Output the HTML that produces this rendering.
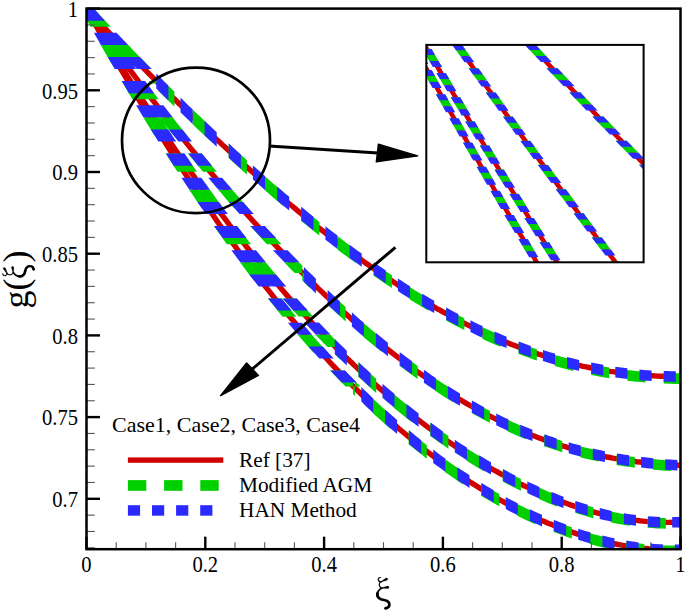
<!DOCTYPE html>
<html><head><meta charset="utf-8"><style>html,body{margin:0;padding:0;background:#fff;}svg{display:block;}</style></head>
<body><svg width="685" height="612" viewBox="0 0 685 612">
<defs><clipPath id="pc"><rect x="86.50" y="8.60" width="594.00" height="540.60"/></clipPath>
<clipPath id="ic"><rect x="426.30" y="44.90" width="217.30" height="217.40"/></clipPath></defs>
<rect width="685" height="612" fill="#fff"/>
<g clip-path="url(#pc)"><path d="M86.5,8.6 L89.5,11.8 L92.4,15.0 L95.4,18.2 L98.4,21.3 L101.4,24.5 L104.3,27.6 L107.3,30.8 L110.3,33.9 L113.3,37.0 L116.2,40.1 L119.2,43.2 L122.2,46.3 L125.2,49.4 L128.1,52.5 L131.1,55.5 L134.1,58.6 L137.1,61.6 L140.0,64.7 L143.0,67.7 L146.0,70.7 L148.9,73.7 L151.9,76.7 L154.9,79.7 L157.9,82.6 L160.8,85.6 L163.8,88.6 L166.8,91.5 L169.8,94.5 L172.7,97.4 L175.7,100.3 L178.7,103.2 L181.7,106.1 L184.6,109.0 L187.6,111.9 L190.6,114.7 L193.6,117.6 L196.5,120.4 L199.5,123.3 L202.5,126.1 L205.4,128.9 L208.4,131.7 L211.4,134.5 L214.4,137.3 L217.3,140.1 L220.3,142.8 L223.3,145.6 L226.3,148.3 L229.2,151.1 L232.2,153.8 L235.2,156.5 L238.2,159.2 L241.1,161.9 L244.1,164.6 L247.1,167.2 L250.1,169.9 L253.0,172.5 L256.0,175.2 L259.0,177.8 L261.9,180.4 L264.9,183.0 L267.9,185.6 L270.9,188.1 L273.8,190.7 L276.8,193.2 L279.8,195.8 L282.8,198.3 L285.7,200.8 L288.7,203.3 L291.7,205.8 L294.7,208.2 L297.6,210.7 L300.6,213.1 L303.6,215.6 L306.6,218.0 L309.5,220.4 L312.5,222.8 L315.5,225.1 L318.4,227.5 L321.4,229.9 L324.4,232.2 L327.4,234.5 L330.3,236.8 L333.3,239.1 L336.3,241.4 L339.3,243.6 L342.2,245.9 L345.2,248.1 L348.2,250.3 L351.2,252.5 L354.1,254.7 L357.1,256.8 L360.1,259.0 L363.1,261.1 L366.0,263.2 L369.0,265.3 L372.0,267.4 L375.0,269.5 L377.9,271.5 L380.9,273.5 L383.9,275.6 L386.8,277.6 L389.8,279.5 L392.8,281.5 L395.8,283.4 L398.7,285.4 L401.7,287.3 L404.7,289.2 L407.7,291.1 L410.6,292.9 L413.6,294.7 L416.6,296.6 L419.6,298.4 L422.5,300.1 L425.5,301.9 L428.5,303.7 L431.5,305.4 L434.4,307.1 L437.4,308.8 L440.4,310.4 L443.3,312.1 L446.3,313.7 L449.3,315.3 L452.3,316.9 L455.2,318.5 L458.2,320.0 L461.2,321.6 L464.2,323.1 L467.1,324.6 L470.1,326.0 L473.1,327.5 L476.1,328.9 L479.0,330.3 L482.0,331.7 L485.0,333.1 L488.0,334.4 L490.9,335.7 L493.9,337.1 L496.9,338.3 L499.8,339.6 L502.8,340.8 L505.8,342.1 L508.8,343.3 L511.7,344.4 L514.7,345.6 L517.7,346.7 L520.7,347.8 L523.6,348.9 L526.6,350.0 L529.6,351.1 L532.6,352.1 L535.5,353.1 L538.5,354.1 L541.5,355.0 L544.5,356.0 L547.4,356.9 L550.4,357.8 L553.4,358.7 L556.3,359.5 L559.3,360.4 L562.3,361.2 L565.3,362.0 L568.2,362.7 L571.2,363.5 L574.2,364.2 L577.2,364.9 L580.1,365.6 L583.1,366.3 L586.1,366.9 L589.1,367.5 L592.0,368.1 L595.0,368.7 L598.0,369.3 L601.0,369.8 L603.9,370.3 L606.9,370.8 L609.9,371.3 L612.8,371.7 L615.8,372.1 L618.8,372.6 L621.8,372.9 L624.7,373.3 L627.7,373.7 L630.7,374.0 L633.7,374.3 L636.6,374.6 L639.6,374.9 L642.6,375.1 L645.6,375.3 L648.5,375.5 L651.5,375.7 L654.5,375.9 L657.5,376.1 L660.4,376.2 L663.4,376.3 L666.4,376.4 L669.3,376.5 L672.3,376.5 L675.3,376.6 L678.3,376.6 L680.5,376.6" fill="none" stroke="#d00000" stroke-width="5.4"/><path d="M86.5,8.6 L89.5,12.9 L92.4,17.2 L95.4,21.5 L98.4,25.8 L101.4,30.0 L104.3,34.2 L107.3,38.4 L110.3,42.6 L113.3,46.8 L116.2,50.9 L119.2,55.0 L122.2,59.1 L125.2,63.2 L128.1,67.3 L131.1,71.3 L134.1,75.3 L137.1,79.3 L140.0,83.3 L143.0,87.2 L146.0,91.2 L148.9,95.1 L151.9,99.0 L154.9,102.9 L157.9,106.8 L160.8,110.6 L163.8,114.4 L166.8,118.3 L169.8,122.1 L172.7,125.8 L175.7,129.6 L178.7,133.3 L181.7,137.0 L184.6,140.7 L187.6,144.4 L190.6,148.1 L193.6,151.7 L196.5,155.4 L199.5,159.0 L202.5,162.6 L205.4,166.2 L208.4,169.7 L211.4,173.3 L214.4,176.8 L217.3,180.3 L220.3,183.8 L223.3,187.3 L226.3,190.7 L229.2,194.2 L232.2,197.6 L235.2,201.0 L238.2,204.3 L241.1,207.7 L244.1,211.1 L247.1,214.4 L250.1,217.7 L253.0,221.0 L256.0,224.3 L259.0,227.5 L261.9,230.7 L264.9,234.0 L267.9,237.2 L270.9,240.3 L273.8,243.5 L276.8,246.6 L279.8,249.8 L282.8,252.9 L285.7,255.9 L288.7,259.0 L291.7,262.1 L294.7,265.1 L297.6,268.1 L300.6,271.1 L303.6,274.0 L306.6,277.0 L309.5,279.9 L312.5,282.8 L315.5,285.7 L318.4,288.6 L321.4,291.4 L324.4,294.2 L327.4,297.1 L330.3,299.8 L333.3,302.6 L336.3,305.3 L339.3,308.1 L342.2,310.8 L345.2,313.4 L348.2,316.1 L351.2,318.7 L354.1,321.4 L357.1,324.0 L360.1,326.5 L363.1,329.1 L366.0,331.6 L369.0,334.1 L372.0,336.6 L375.0,339.1 L377.9,341.5 L380.9,343.9 L383.9,346.3 L386.8,348.7 L389.8,351.0 L392.8,353.4 L395.8,355.7 L398.7,357.9 L401.7,360.2 L404.7,362.4 L407.7,364.7 L410.6,366.8 L413.6,369.0 L416.6,371.1 L419.6,373.3 L422.5,375.3 L425.5,377.4 L428.5,379.5 L431.5,381.5 L434.4,383.5 L437.4,385.4 L440.4,387.4 L443.3,389.3 L446.3,391.2 L449.3,393.1 L452.3,394.9 L455.2,396.8 L458.2,398.6 L461.2,400.3 L464.2,402.1 L467.1,403.8 L470.1,405.5 L473.1,407.2 L476.1,408.8 L479.0,410.5 L482.0,412.1 L485.0,413.6 L488.0,415.2 L490.9,416.7 L493.9,418.2 L496.9,419.7 L499.8,421.1 L502.8,422.6 L505.8,424.0 L508.8,425.3 L511.7,426.7 L514.7,428.0 L517.7,429.3 L520.7,430.6 L523.6,431.8 L526.6,433.1 L529.6,434.3 L532.6,435.4 L535.5,436.6 L538.5,437.7 L541.5,438.8 L544.5,439.9 L547.4,440.9 L550.4,442.0 L553.4,443.0 L556.3,443.9 L559.3,444.9 L562.3,445.8 L565.3,446.7 L568.2,447.6 L571.2,448.5 L574.2,449.3 L577.2,450.1 L580.1,450.9 L583.1,451.7 L586.1,452.4 L589.1,453.1 L592.0,453.8 L595.0,454.5 L598.0,455.1 L601.0,455.8 L603.9,456.4 L606.9,457.0 L609.9,457.5 L612.8,458.1 L615.8,458.6 L618.8,459.1 L621.8,459.6 L624.7,460.0 L627.7,460.5 L630.7,460.9 L633.7,461.3 L636.6,461.7 L639.6,462.0 L642.6,462.4 L645.6,462.7 L648.5,463.0 L651.5,463.3 L654.5,463.6 L657.5,463.9 L660.4,464.1 L663.4,464.3 L666.4,464.5 L669.3,464.7 L672.3,464.9 L675.3,465.1 L678.3,465.2 L680.5,465.3" fill="none" stroke="#d00000" stroke-width="5.4"/><path d="M86.5,8.6 L89.5,13.6 L92.4,18.7 L95.4,23.6 L98.4,28.6 L101.4,33.6 L104.3,38.5 L107.3,43.4 L110.3,48.3 L113.3,53.2 L116.2,58.0 L119.2,62.9 L122.2,67.7 L125.2,72.5 L128.1,77.2 L131.1,82.0 L134.1,86.7 L137.1,91.4 L140.0,96.0 L143.0,100.7 L146.0,105.3 L148.9,109.9 L151.9,114.5 L154.9,119.0 L157.9,123.6 L160.8,128.1 L163.8,132.5 L166.8,137.0 L169.8,141.4 L172.7,145.8 L175.7,150.2 L178.7,154.5 L181.7,158.9 L184.6,163.2 L187.6,167.4 L190.6,171.7 L193.6,175.9 L196.5,180.1 L199.5,184.3 L202.5,188.4 L205.4,192.5 L208.4,196.6 L211.4,200.7 L214.4,204.7 L217.3,208.8 L220.3,212.8 L223.3,216.7 L226.3,220.7 L229.2,224.6 L232.2,228.4 L235.2,232.3 L238.2,236.1 L241.1,239.9 L244.1,243.7 L247.1,247.5 L250.1,251.2 L253.0,254.9 L256.0,258.6 L259.0,262.2 L261.9,265.8 L264.9,269.4 L267.9,273.0 L270.9,276.5 L273.8,280.1 L276.8,283.5 L279.8,287.0 L282.8,290.4 L285.7,293.9 L288.7,297.2 L291.7,300.6 L294.7,303.9 L297.6,307.2 L300.6,310.5 L303.6,313.8 L306.6,317.0 L309.5,320.2 L312.5,323.4 L315.5,326.5 L318.4,329.6 L321.4,332.7 L324.4,335.8 L327.4,338.9 L330.3,341.9 L333.3,344.9 L336.3,347.8 L339.3,350.8 L342.2,353.7 L345.2,356.6 L348.2,359.5 L351.2,362.3 L354.1,365.1 L357.1,367.9 L360.1,370.7 L363.1,373.4 L366.0,376.2 L369.0,378.8 L372.0,381.5 L375.0,384.2 L377.9,386.8 L380.9,389.4 L383.9,391.9 L386.8,394.5 L389.8,397.0 L392.8,399.5 L395.8,402.0 L398.7,404.4 L401.7,406.8 L404.7,409.2 L407.7,411.6 L410.6,414.0 L413.6,416.3 L416.6,418.6 L419.6,420.9 L422.5,423.1 L425.5,425.4 L428.5,427.6 L431.5,429.7 L434.4,431.9 L437.4,434.0 L440.4,436.1 L443.3,438.2 L446.3,440.3 L449.3,442.3 L452.3,444.3 L455.2,446.3 L458.2,448.3 L461.2,450.2 L464.2,452.2 L467.1,454.1 L470.1,455.9 L473.1,457.8 L476.1,459.6 L479.0,461.4 L482.0,463.2 L485.0,464.9 L488.0,466.7 L490.9,468.4 L493.9,470.0 L496.9,471.7 L499.8,473.3 L502.8,474.9 L505.8,476.5 L508.8,478.1 L511.7,479.6 L514.7,481.1 L517.7,482.6 L520.7,484.1 L523.6,485.5 L526.6,486.9 L529.6,488.3 L532.6,489.7 L535.5,491.0 L538.5,492.3 L541.5,493.6 L544.5,494.9 L547.4,496.1 L550.4,497.3 L553.4,498.5 L556.3,499.7 L559.3,500.8 L562.3,501.9 L565.3,503.0 L568.2,504.0 L571.2,505.1 L574.2,506.1 L577.2,507.0 L580.1,508.0 L583.1,508.9 L586.1,509.8 L589.1,510.6 L592.0,511.5 L595.0,512.3 L598.0,513.1 L601.0,513.8 L603.9,514.5 L606.9,515.2 L609.9,515.9 L612.8,516.5 L615.8,517.1 L618.8,517.7 L621.8,518.2 L624.7,518.7 L627.7,519.2 L630.7,519.6 L633.7,520.1 L636.6,520.4 L639.6,520.8 L642.6,521.1 L645.6,521.4 L648.5,521.6 L651.5,521.8 L654.5,522.0 L657.5,522.2 L660.4,522.3 L663.4,522.3 L666.4,522.4 L669.3,522.4 L672.3,522.3 L675.3,522.3 L678.3,522.2 L680.5,522.0" fill="none" stroke="#d00000" stroke-width="5.4"/><path d="M86.5,8.6 L89.5,14.0 L92.4,19.3 L95.4,24.6 L98.4,29.9 L101.4,35.2 L104.3,40.4 L107.3,45.6 L110.3,50.8 L113.3,56.0 L116.2,61.2 L119.2,66.3 L122.2,71.4 L125.2,76.5 L128.1,81.5 L131.1,86.6 L134.1,91.6 L137.1,96.6 L140.0,101.6 L143.0,106.5 L146.0,111.4 L148.9,116.3 L151.9,121.2 L154.9,126.0 L157.9,130.8 L160.8,135.6 L163.8,140.3 L166.8,145.1 L169.8,149.8 L172.7,154.5 L175.7,159.1 L178.7,163.7 L181.7,168.3 L184.6,172.9 L187.6,177.5 L190.6,182.0 L193.6,186.5 L196.5,190.9 L199.5,195.4 L202.5,199.8 L205.4,204.2 L208.4,208.5 L211.4,212.8 L214.4,217.1 L217.3,221.4 L220.3,225.7 L223.3,229.9 L226.3,234.1 L229.2,238.2 L232.2,242.3 L235.2,246.4 L238.2,250.5 L241.1,254.6 L244.1,258.6 L247.1,262.6 L250.1,266.5 L253.0,270.5 L256.0,274.4 L259.0,278.2 L261.9,282.1 L264.9,285.9 L267.9,289.7 L270.9,293.4 L273.8,297.2 L276.8,300.9 L279.8,304.6 L282.8,308.2 L285.7,311.8 L288.7,315.4 L291.7,319.0 L294.7,322.5 L297.6,326.0 L300.6,329.5 L303.6,332.9 L306.6,336.3 L309.5,339.7 L312.5,343.1 L315.5,346.4 L318.4,349.7 L321.4,353.0 L324.4,356.3 L327.4,359.5 L330.3,362.7 L333.3,365.9 L336.3,369.0 L339.3,372.1 L342.2,375.2 L345.2,378.2 L348.2,381.3 L351.2,384.3 L354.1,387.2 L357.1,390.2 L360.1,393.1 L363.1,396.0 L366.0,398.8 L369.0,401.7 L372.0,404.5 L375.0,407.3 L377.9,410.0 L380.9,412.7 L383.9,415.4 L386.8,418.1 L389.8,420.7 L392.8,423.4 L395.8,425.9 L398.7,428.5 L401.7,431.0 L404.7,433.5 L407.7,436.0 L410.6,438.5 L413.6,440.9 L416.6,443.3 L419.6,445.7 L422.5,448.0 L425.5,450.3 L428.5,452.6 L431.5,454.9 L434.4,457.1 L437.4,459.4 L440.4,461.5 L443.3,463.7 L446.3,465.8 L449.3,468.0 L452.3,470.0 L455.2,472.1 L458.2,474.1 L461.2,476.1 L464.2,478.1 L467.1,480.1 L470.1,482.0 L473.1,483.9 L476.1,485.8 L479.0,487.6 L482.0,489.4 L485.0,491.2 L488.0,493.0 L490.9,494.7 L493.9,496.4 L496.9,498.1 L499.8,499.8 L502.8,501.4 L505.8,503.1 L508.8,504.6 L511.7,506.2 L514.7,507.7 L517.7,509.2 L520.7,510.7 L523.6,512.2 L526.6,513.6 L529.6,515.0 L532.6,516.4 L535.5,517.8 L538.5,519.1 L541.5,520.4 L544.5,521.6 L547.4,522.9 L550.4,524.1 L553.4,525.3 L556.3,526.5 L559.3,527.6 L562.3,528.7 L565.3,529.8 L568.2,530.9 L571.2,531.9 L574.2,532.9 L577.2,533.9 L580.1,534.8 L583.1,535.7 L586.1,536.6 L589.1,537.5 L592.0,538.3 L595.0,539.2 L598.0,539.9 L601.0,540.7 L603.9,541.4 L606.9,542.1 L609.9,542.8 L612.8,543.4 L615.8,544.0 L618.8,544.6 L621.8,545.2 L624.7,545.7 L627.7,546.2 L630.7,546.6 L633.7,547.1 L636.6,547.5 L639.6,547.8 L642.6,548.2 L645.6,548.5 L648.5,548.8 L651.5,549.0 L654.5,549.2 L657.5,549.4 L660.4,549.6 L663.4,549.7 L666.4,549.8 L669.3,549.8 L672.3,549.8 L675.3,549.8 L678.3,549.8 L680.5,549.7" fill="none" stroke="#d00000" stroke-width="5.4"/><path d="M79.3,8.6 L83.5,13.1 L87.7,17.7 L92.0,22.2 L96.3,26.8 L110.8,26.8 L106.5,22.2 L102.2,17.7 L98.0,13.1 L93.7,8.6Z M113.4,44.8 L117.7,49.4 L122.1,53.9 L126.5,58.5 L131.0,63.0 L145.8,63.0 L141.3,58.5 L136.9,53.9 L132.5,49.4 L128.1,44.8Z M148.7,81.1 L149.2,81.6 L149.7,82.1 L150.2,82.6 L150.7,83.0 L151.2,83.5 L166.2,83.5 L165.7,83.0 L165.2,82.6 L164.7,82.1 L164.2,81.6 L163.7,81.1Z M158.7,76.0 L160.6,78.0 L162.6,80.0 L164.6,82.0 L166.5,83.9 L168.5,85.9 L170.5,87.8 L172.4,89.8 L174.4,91.7 L174.4,93.8 L174.4,104.4 L174.4,106.6 L172.4,104.6 L170.5,102.7 L168.5,100.8 L166.5,98.8 L164.6,96.9 L162.6,94.9 L160.6,93.0 L158.7,91.0Z M192.5,109.3 L197.0,113.7 L201.6,118.1 L206.1,122.4 L210.7,126.7 L210.7,141.3 L206.1,137.0 L201.6,132.7 L197.0,128.4 L192.5,124.0Z M228.7,143.6 L233.2,147.8 L237.8,152.0 L242.3,156.1 L246.9,160.2 L246.9,174.5 L242.3,170.4 L237.8,166.3 L233.2,162.2 L228.7,158.0Z M264.9,176.3 L269.5,180.3 L274.0,184.2 L278.6,188.1 L283.1,192.0 L283.1,205.9 L278.6,202.1 L274.0,198.2 L269.5,194.3 L264.9,190.3Z M301.2,207.2 L305.7,210.9 L310.3,214.6 L314.8,218.3 L319.4,222.0 L319.4,235.5 L314.8,231.9 L310.3,228.3 L305.7,224.6 L301.2,220.9Z M337.4,236.1 L342.0,239.6 L346.5,243.0 L351.1,246.4 L355.6,249.8 L355.6,262.9 L351.1,259.6 L346.5,256.2 L342.0,252.9 L337.4,249.4Z M373.7,262.8 L378.2,266.0 L382.8,269.1 L387.3,272.2 L391.9,275.3 L391.9,288.0 L387.3,285.0 L382.8,281.9 L378.2,278.8 L373.7,275.7Z M409.9,287.0 L414.4,289.9 L419.0,292.7 L423.5,295.4 L428.1,298.1 L428.1,310.5 L423.5,307.8 L419.0,305.1 L414.4,302.3 L409.9,299.5Z M446.1,308.5 L450.7,311.0 L455.2,313.5 L459.8,315.9 L464.3,318.2 L464.3,330.1 L459.8,327.8 L455.2,325.5 L450.7,323.1 L446.1,320.6Z M482.4,327.1 L486.9,329.2 L491.5,331.3 L496.0,333.3 L500.6,335.3 L500.6,346.8 L496.0,344.9 L491.5,342.9 L486.9,340.9 L482.4,338.8Z M518.6,342.7 L523.2,344.4 L527.7,346.1 L532.3,347.7 L536.8,349.2 L536.8,360.4 L532.3,358.9 L527.7,357.3 L523.2,355.7 L518.6,354.0Z M554.9,355.0 L559.4,356.3 L564.0,357.6 L568.5,358.8 L573.1,360.0 L573.1,370.9 L568.5,369.7 L564.0,368.6 L559.4,367.3 L554.9,366.0Z M591.1,364.1 L595.6,365.0 L600.2,365.9 L604.7,366.7 L609.3,367.5 L609.3,378.2 L604.7,377.4 L600.2,376.7 L595.6,375.8 L591.1,374.9Z M627.3,370.0 L631.9,370.5 L636.4,371.0 L641.0,371.5 L645.5,371.8 L645.5,382.5 L641.0,382.1 L636.4,381.7 L631.9,381.2 L627.3,380.7Z M663.6,372.9 L669.2,373.1 L674.9,373.2 L680.5,373.3 L680.5,383.9 L674.9,383.9 L669.2,383.7 L663.6,383.5Z M80.1,8.6 L83.2,13.1 L86.3,17.7 L89.5,22.2 L92.6,26.8 L105.6,26.8 L102.4,22.2 L99.2,17.7 L96.1,13.1 L92.9,8.6Z M105.3,44.8 L108.6,49.4 L111.9,53.9 L115.1,58.5 L118.4,63.0 L131.6,63.0 L128.2,58.5 L124.9,53.9 L121.6,49.4 L118.4,44.8Z M131.7,81.1 L135.1,85.6 L138.5,90.2 L141.9,94.7 L145.4,99.3 L158.7,99.3 L155.2,94.7 L151.8,90.2 L148.3,85.6 L144.9,81.1Z M159.2,117.3 L162.8,121.9 L166.3,126.4 L169.9,131.0 L173.5,135.5 L187.1,135.5 L183.5,131.0 L179.8,126.4 L176.2,121.9 L172.7,117.3Z M188.0,153.6 L191.8,158.1 L195.5,162.7 L199.3,167.2 L203.0,171.8 L216.9,171.8 L213.0,167.2 L209.3,162.7 L205.5,158.1 L201.7,153.6Z M218.3,189.8 L222.2,194.3 L226.1,198.9 L230.1,203.5 L234.1,208.0 L248.2,208.0 L244.2,203.5 L240.2,198.9 L236.2,194.3 L232.3,189.8Z M250.2,226.0 L254.3,230.6 L258.5,235.1 L262.7,239.7 L267.0,244.2 L281.5,244.2 L277.2,239.7 L273.0,235.1 L268.7,230.6 L264.6,226.0Z M284.2,262.3 L286.1,264.2 L288.0,266.2 L289.9,268.2 L291.9,270.2 L293.8,272.1 L294.8,273.1 L309.8,273.1 L308.8,272.1 L306.8,270.2 L304.8,268.2 L302.9,266.2 L300.9,264.2 L299.0,262.3Z M302.3,265.6 L304.2,267.6 L306.2,269.5 L308.1,271.5 L309.6,272.9 L309.6,287.8 L308.1,286.4 L306.2,284.4 L304.2,282.5 L302.3,280.6Z M327.5,290.3 L332.0,294.6 L336.6,298.8 L341.1,303.0 L345.6,307.1 L345.6,321.4 L341.1,317.3 L336.6,313.2 L332.0,309.1 L327.5,304.8Z M363.5,323.0 L368.0,326.8 L372.6,330.7 L377.1,334.4 L381.6,338.1 L381.6,351.8 L377.1,348.2 L372.6,344.5 L368.0,340.7 L363.5,336.9Z M399.5,352.4 L404.0,355.9 L408.6,359.3 L413.1,362.6 L417.6,365.9 L417.6,379.0 L413.1,375.7 L408.6,372.4 L404.0,369.1 L399.5,365.7Z M435.5,378.4 L440.0,381.4 L444.6,384.4 L449.1,387.3 L453.6,390.1 L453.6,402.6 L449.1,399.8 L444.6,397.0 L440.0,394.1 L435.5,391.1Z M471.7,401.0 L476.2,403.5 L480.8,406.0 L485.3,408.5 L489.9,410.9 L489.9,422.8 L485.3,420.5 L480.8,418.1 L476.2,415.6 L471.7,413.1Z M507.9,419.8 L512.4,421.9 L517.0,424.0 L521.5,425.9 L526.1,427.8 L526.1,439.3 L521.5,437.4 L517.0,435.5 L512.4,433.5 L507.9,431.5Z M544.1,434.9 L548.7,436.5 L553.2,438.1 L557.8,439.6 L562.3,441.1 L562.3,452.2 L557.8,450.8 L553.2,449.3 L548.7,447.8 L544.1,446.2Z M580.4,446.3 L584.9,447.5 L589.5,448.6 L594.0,449.7 L598.6,450.7 L598.6,461.6 L594.0,460.6 L589.5,459.5 L584.9,458.4 L580.4,457.3Z M616.6,454.2 L621.2,455.0 L625.7,455.7 L630.3,456.4 L634.8,457.0 L634.8,467.7 L630.3,467.1 L625.7,466.4 L621.2,465.7 L616.6,465.0Z M652.9,459.1 L657.4,459.5 L662.0,459.9 L666.5,460.2 L671.1,460.5 L671.1,471.1 L666.5,470.8 L662.0,470.5 L657.4,470.1 L652.9,469.7Z M80.3,8.6 L83.0,13.1 L85.7,17.7 L88.4,22.2 L91.1,26.8 L103.5,26.8 L100.7,22.2 L98.0,17.7 L95.3,13.1 L92.7,8.6Z M101.9,44.8 L104.7,49.4 L107.5,53.9 L110.3,58.5 L113.1,63.0 L125.5,63.0 L122.7,58.5 L119.9,53.9 L117.1,49.4 L114.3,44.8Z M124.2,81.1 L127.1,85.6 L130.0,90.2 L132.8,94.7 L135.8,99.3 L148.3,99.3 L145.4,94.7 L142.5,90.2 L139.6,85.6 L136.8,81.1Z M147.4,117.3 L150.3,121.9 L153.3,126.4 L156.3,131.0 L159.4,135.5 L172.1,135.5 L169.1,131.0 L166.0,126.4 L163.0,121.9 L160.0,117.3Z M171.5,153.6 L174.6,158.1 L177.7,162.7 L180.9,167.2 L184.0,171.8 L197.0,171.8 L193.8,167.2 L190.6,162.7 L187.5,158.1 L184.3,153.6Z M196.8,189.8 L200.1,194.3 L203.4,198.9 L206.7,203.5 L210.0,208.0 L223.2,208.0 L219.8,203.5 L216.5,198.9 L213.2,194.3 L209.9,189.8Z M223.5,226.0 L227.0,230.6 L230.5,235.1 L234.0,239.7 L237.6,244.2 L251.0,244.2 L247.5,239.7 L243.9,235.1 L240.4,230.6 L236.9,226.0Z M251.9,262.3 L255.7,266.8 L259.4,271.4 L263.2,275.9 L267.0,280.5 L280.9,280.5 L277.0,275.9 L273.2,271.4 L269.4,266.8 L265.6,262.3Z M282.5,298.5 L286.5,303.1 L290.5,307.6 L294.6,312.1 L298.7,316.6 L313.1,316.6 L308.9,312.1 L304.8,307.6 L300.7,303.1 L296.6,298.5Z M315.3,334.5 L317.2,336.4 L319.1,338.4 L321.0,340.3 L322.8,342.2 L324.7,344.2 L326.7,346.1 L327.6,347.1 L342.6,347.1 L341.6,346.1 L339.7,344.2 L337.7,342.2 L335.8,340.3 L333.9,338.4 L332.0,336.4 L330.1,334.5Z M335.1,339.6 L337.1,341.6 L339.0,343.5 L340.5,344.9 L340.5,359.8 L339.0,358.4 L337.1,356.5 L335.1,354.6Z M358.3,362.2 L362.8,366.4 L367.3,370.6 L371.7,374.7 L376.2,378.7 L376.2,392.9 L371.7,388.9 L367.3,384.9 L362.8,380.8 L358.3,376.7Z M394.0,394.2 L398.5,397.9 L403.1,401.7 L407.6,405.3 L412.2,409.0 L412.2,422.5 L407.6,418.9 L403.1,415.3 L398.5,411.6 L394.0,407.9Z M430.2,422.9 L434.8,426.2 L439.3,429.5 L443.9,432.7 L448.4,435.9 L448.4,448.8 L443.9,445.6 L439.3,442.5 L434.8,439.3 L430.2,436.0Z M466.4,448.0 L471.0,450.9 L475.5,453.7 L480.1,456.5 L484.6,459.2 L484.6,471.6 L480.1,468.9 L475.5,466.2 L471.0,463.4 L466.4,460.5Z M502.7,469.6 L507.2,472.0 L511.8,474.4 L516.3,476.7 L520.9,479.0 L520.9,490.8 L516.3,488.6 L511.8,486.3 L507.2,484.0 L502.7,481.6Z M538.9,487.5 L543.5,489.5 L548.0,491.4 L552.6,493.3 L557.1,495.1 L557.1,506.4 L552.6,504.7 L548.0,502.9 L543.5,501.0 L538.9,499.0Z M575.2,501.6 L579.7,503.1 L584.3,504.5 L588.8,505.9 L593.4,507.2 L593.4,518.2 L588.8,516.9 L584.3,515.6 L579.7,514.2 L575.2,512.8Z M611.4,511.7 L616.0,512.6 L620.5,513.5 L625.1,514.3 L629.6,515.0 L629.6,525.8 L625.1,525.0 L620.5,524.3 L616.0,523.4 L611.4,522.5Z M647.6,517.2 L652.2,517.5 L656.7,517.8 L661.3,518.0 L665.8,518.0 L665.8,528.7 L661.3,528.6 L656.7,528.4 L652.2,528.1 L647.6,527.8Z M80.4,8.6 L83.0,13.1 L85.5,17.7 L88.0,22.2 L90.6,26.8 L102.7,26.8 L100.2,22.2 L97.6,17.7 L95.1,13.1 L92.6,8.6Z M100.7,44.8 L103.3,49.4 L105.9,53.9 L108.6,58.5 L111.2,63.0 L123.4,63.0 L120.8,58.5 L118.2,53.9 L115.5,49.4 L113.0,44.8Z M121.7,81.1 L124.3,85.6 L127.0,90.2 L129.7,94.7 L132.4,99.3 L144.8,99.3 L142.1,94.7 L139.4,90.2 L136.7,85.6 L134.0,81.1Z M143.3,117.3 L146.1,121.9 L148.9,126.4 L151.7,131.0 L154.5,135.5 L167.0,135.5 L164.1,131.0 L161.3,126.4 L158.5,121.9 L155.7,117.3Z M165.8,153.6 L168.7,158.1 L171.6,162.7 L174.5,167.2 L177.5,171.8 L190.1,171.8 L187.1,167.2 L184.2,162.7 L181.3,158.1 L178.4,153.6Z M189.3,189.8 L192.3,194.3 L195.4,198.9 L198.4,203.5 L201.5,208.0 L214.3,208.0 L211.2,203.5 L208.1,198.9 L205.1,194.3 L202.0,189.8Z M213.9,226.0 L217.1,230.6 L220.4,235.1 L223.6,239.7 L226.9,244.2 L239.9,244.2 L236.7,239.7 L233.4,235.1 L230.1,230.6 L226.9,226.0Z M240.0,262.3 L243.4,266.8 L246.9,271.4 L250.3,275.9 L253.8,280.5 L267.2,280.5 L263.7,275.9 L260.2,271.4 L256.7,266.8 L253.3,262.3Z M267.9,298.5 L271.5,303.1 L275.2,307.6 L278.9,312.2 L282.6,316.7 L296.4,316.7 L292.6,312.2 L288.9,307.6 L285.1,303.1 L281.5,298.5Z M297.8,334.7 L301.7,339.2 L305.6,343.7 L309.6,348.2 L313.6,352.7 L327.9,352.7 L323.8,348.2 L319.8,343.7 L315.8,339.2 L311.8,334.7Z M330.0,370.5 L331.9,372.5 L333.7,374.4 L335.6,376.3 L337.4,378.3 L339.3,380.2 L341.2,382.2 L343.1,384.1 L345.0,386.1 L345.5,386.5 L360.5,386.5 L360.0,386.1 L358.0,384.1 L356.1,382.2 L354.2,380.2 L352.2,378.3 L350.3,376.3 L348.4,374.4 L346.5,372.5 L344.7,370.5Z M353.0,379.1 L353.5,379.5 L354.0,380.0 L354.4,380.5 L354.9,381.0 L354.9,396.0 L354.4,395.5 L354.0,395.0 L353.5,394.5 L353.0,394.0Z M372.7,398.4 L377.2,402.6 L381.7,406.8 L386.2,410.9 L390.7,414.9 L390.7,429.1 L386.2,425.2 L381.7,421.1 L377.2,417.1 L372.7,412.9Z M408.6,430.5 L413.2,434.3 L417.7,438.0 L422.3,441.6 L426.8,445.2 L426.8,458.7 L422.3,455.1 L417.7,451.6 L413.2,447.9 L408.6,444.2Z M444.9,458.9 L449.4,462.2 L454.0,465.4 L458.5,468.5 L463.1,471.6 L463.1,484.4 L458.5,481.4 L454.0,478.3 L449.4,475.1 L444.9,471.9Z M481.1,483.3 L485.7,486.1 L490.2,488.8 L494.8,491.5 L499.3,494.1 L499.3,506.3 L494.8,503.7 L490.2,501.1 L485.7,498.5 L481.1,495.7Z M517.3,503.9 L521.9,506.2 L526.4,508.4 L531.0,510.6 L535.5,512.7 L535.5,524.3 L531.0,522.3 L526.4,520.2 L521.9,518.0 L517.3,515.7Z M553.6,520.5 L558.1,522.3 L562.7,524.0 L567.2,525.7 L571.8,527.3 L571.8,538.5 L567.2,536.9 L562.7,535.3 L558.1,533.6 L553.6,531.9Z M589.8,533.1 L594.4,534.4 L598.9,535.6 L603.5,536.7 L608.0,537.8 L608.0,548.7 L603.5,547.6 L598.9,546.5 L594.4,545.3 L589.8,544.1Z M626.1,541.4 L630.6,542.2 L635.2,542.9 L639.7,543.4 L644.3,544.0 L644.3,554.6 L639.7,554.1 L635.2,553.6 L630.6,552.9 L626.1,552.2Z M662.3,545.3 L666.9,545.4 L671.4,545.5 L676.0,545.5 L680.5,545.4 L680.5,556.0 L676.0,556.1 L671.4,556.1 L666.9,556.0 L662.3,555.9Z" fill="#00d000"/><path d="M79.3,8.6 L83.0,12.6 L86.8,16.7 L90.5,20.7 L105.1,20.7 L101.3,16.7 L97.5,12.6 L93.7,8.6Z M101.9,32.8 L105.7,36.8 L109.6,40.8 L113.4,44.9 L128.1,44.9 L124.2,40.8 L120.4,36.8 L116.5,32.8Z M125.0,56.9 L129.0,61.0 L132.9,65.0 L136.9,69.0 L151.8,69.0 L147.8,65.0 L143.8,61.0 L139.9,56.9Z M156.3,73.6 L160.3,77.6 L164.4,81.7 L168.4,85.6 L168.4,100.6 L164.4,96.6 L160.3,92.6 L156.3,88.6Z M180.5,97.5 L184.5,101.5 L188.5,105.4 L192.6,109.3 L192.6,124.0 L188.5,120.1 L184.5,116.2 L180.5,112.3Z M204.6,120.8 L208.7,124.7 L212.7,128.5 L216.7,132.2 L216.7,146.7 L212.7,143.0 L208.7,139.2 L204.6,135.4Z M228.8,143.5 L232.8,147.2 L236.8,150.9 L240.9,154.5 L240.9,168.8 L236.8,165.2 L232.8,161.5 L228.8,157.8Z M252.9,165.4 L257.0,168.9 L261.0,172.5 L265.0,176.0 L265.0,190.1 L261.0,186.6 L257.0,183.1 L252.9,179.5Z M277.1,186.5 L281.1,190.0 L285.2,193.4 L289.2,196.8 L289.2,210.6 L285.2,207.2 L281.1,203.9 L277.1,200.4Z M301.3,206.8 L305.3,210.1 L309.3,213.4 L313.4,216.7 L313.4,230.3 L309.3,227.0 L305.3,223.8 L301.3,220.5Z M325.4,226.3 L329.5,229.4 L333.5,232.5 L337.5,235.6 L337.5,249.0 L333.5,245.9 L329.5,242.8 L325.4,239.7Z M349.6,244.7 L353.6,247.7 L357.6,250.7 L361.7,253.6 L361.7,266.7 L357.6,263.8 L353.6,260.8 L349.6,257.9Z M373.7,262.2 L377.8,265.0 L381.8,267.8 L385.8,270.5 L385.8,283.3 L381.8,280.6 L377.8,277.8 L373.7,275.1Z M397.9,278.5 L401.9,281.1 L406.0,283.7 L410.0,286.3 L410.0,298.8 L406.0,296.3 L401.9,293.7 L397.9,291.1Z M422.1,293.7 L426.1,296.1 L430.1,298.5 L434.2,300.8 L434.2,313.0 L430.1,310.7 L426.1,308.4 L422.1,306.0Z M446.2,307.6 L450.3,309.8 L454.3,312.0 L458.3,314.1 L458.3,326.1 L454.3,324.0 L450.3,321.9 L446.2,319.7Z M470.4,320.3 L474.4,322.2 L478.4,324.2 L482.5,326.1 L482.5,337.8 L478.4,335.9 L474.4,334.0 L470.4,332.1Z M494.5,331.6 L498.6,333.3 L502.6,335.0 L506.6,336.7 L506.6,348.1 L502.6,346.5 L498.6,344.8 L494.5,343.1Z M518.7,341.5 L522.7,343.0 L526.8,344.4 L530.8,345.9 L530.8,357.1 L526.8,355.7 L522.7,354.3 L518.7,352.8Z M542.9,349.9 L546.9,351.2 L550.9,352.4 L555.0,353.6 L555.0,364.7 L550.9,363.5 L546.9,362.3 L542.9,361.0Z M567.0,357.0 L571.1,358.0 L575.1,359.0 L579.1,359.9 L579.1,370.8 L575.1,369.9 L571.1,368.9 L567.0,367.9Z M591.2,362.6 L595.2,363.3 L599.2,364.1 L603.3,364.8 L603.3,375.6 L599.2,374.9 L595.2,374.1 L591.2,373.4Z M615.3,366.7 L619.4,367.3 L623.4,367.8 L627.4,368.3 L627.4,379.0 L623.4,378.5 L619.4,378.0 L615.3,377.4Z M639.5,369.5 L643.5,369.9 L647.6,370.2 L651.6,370.4 L651.6,381.0 L647.6,380.8 L643.5,380.5 L639.5,380.2Z M663.7,371.0 L667.7,371.1 L671.7,371.2 L675.8,371.3 L675.8,381.9 L671.7,381.8 L667.7,381.7 L663.7,381.6Z M80.1,8.6 L82.8,12.6 L85.6,16.7 L88.4,20.7 L101.3,20.7 L98.5,16.7 L95.7,12.6 L92.9,8.6Z M96.8,32.8 L99.7,36.8 L102.5,40.8 L105.4,44.9 L118.4,44.9 L115.5,40.8 L112.6,36.8 L109.8,32.8Z M114.0,56.9 L117.0,61.0 L119.9,65.0 L122.9,69.0 L136.0,69.0 L133.0,65.0 L130.1,61.0 L127.1,56.9Z M131.8,81.1 L134.8,85.1 L137.8,89.1 L140.8,93.2 L154.1,93.2 L151.1,89.1 L148.0,85.1 L145.0,81.1Z M150.0,105.2 L153.1,109.3 L156.2,113.3 L159.4,117.3 L172.8,117.3 L169.6,113.3 L166.5,109.3 L163.4,105.2Z M168.8,129.4 L172.0,133.4 L175.2,137.5 L178.4,141.5 L192.0,141.5 L188.8,137.5 L185.6,133.4 L182.3,129.4Z M188.2,153.6 L191.5,157.6 L194.8,161.6 L198.1,165.7 L211.9,165.7 L208.6,161.6 L205.2,157.6 L201.9,153.6Z M208.2,177.7 L211.6,181.8 L215.0,185.8 L218.5,189.8 L232.5,189.8 L229.0,185.8 L225.5,181.8 L222.1,177.7Z M228.9,201.9 L232.5,205.9 L236.0,209.9 L239.6,214.0 L253.8,214.0 L250.2,209.9 L246.6,205.9 L243.1,201.9Z M250.4,226.0 L254.1,230.1 L257.8,234.1 L261.6,238.1 L276.1,238.1 L272.3,234.1 L268.5,230.1 L264.8,226.0Z M272.9,250.2 L276.7,254.2 L280.6,258.3 L284.5,262.3 L299.3,262.3 L295.4,258.3 L291.5,254.2 L287.6,250.2Z M303.9,266.9 L307.9,270.9 L311.9,274.8 L315.9,278.7 L315.9,293.5 L311.9,289.6 L307.9,285.7 L303.9,281.8Z M327.9,290.3 L331.9,294.0 L335.9,297.8 L339.9,301.5 L339.9,315.8 L335.9,312.2 L331.9,308.5 L327.9,304.8Z M351.9,312.3 L355.9,315.9 L359.9,319.4 L363.9,322.8 L363.9,336.8 L359.9,333.4 L355.9,329.9 L351.9,326.4Z M375.9,333.0 L379.9,336.3 L383.9,339.5 L387.9,342.7 L387.9,356.3 L383.9,353.1 L379.9,349.9 L375.9,346.7Z M399.9,352.2 L403.9,355.2 L407.9,358.2 L411.9,361.2 L411.9,374.3 L407.9,371.4 L403.9,368.5 L399.9,365.5Z M423.9,369.8 L427.9,372.6 L431.9,375.4 L435.9,378.1 L435.9,390.8 L431.9,388.2 L427.9,385.5 L423.9,382.7Z M447.9,386.0 L451.9,388.5 L455.9,391.0 L460.0,393.4 L460.0,405.8 L455.9,403.4 L451.9,400.9 L447.9,398.4Z M472.0,400.5 L476.1,402.8 L480.1,405.0 L484.1,407.2 L484.1,419.2 L480.1,417.1 L476.1,414.9 L472.0,412.7Z M496.2,413.5 L500.2,415.4 L504.2,417.4 L508.3,419.3 L508.3,431.0 L504.2,429.1 L500.2,427.2 L496.2,425.2Z M520.3,424.7 L524.4,426.4 L528.4,428.1 L532.4,429.7 L532.4,441.1 L528.4,439.5 L524.4,437.9 L520.3,436.2Z M544.5,434.3 L548.5,435.7 L552.6,437.1 L556.6,438.4 L556.6,449.6 L552.6,448.3 L548.5,446.9 L544.5,445.5Z M568.7,442.2 L572.7,443.4 L576.7,444.5 L580.8,445.6 L580.8,456.5 L576.7,455.5 L572.7,454.4 L568.7,453.2Z M592.8,448.6 L596.9,449.5 L600.9,450.3 L604.9,451.2 L604.9,462.0 L600.9,461.2 L596.9,460.3 L592.8,459.4Z M617.0,453.4 L621.0,454.1 L625.0,454.7 L629.1,455.3 L629.1,466.0 L625.0,465.4 L621.0,464.8 L617.0,464.2Z M641.1,456.9 L645.2,457.3 L649.2,457.8 L653.2,458.2 L653.2,468.8 L649.2,468.4 L645.2,468.0 L641.1,467.6Z M665.3,459.2 L669.3,459.4 L673.4,459.7 L677.4,459.9 L677.4,470.5 L673.4,470.3 L669.3,470.0 L665.3,469.8Z M80.3,8.6 L82.7,12.6 L85.1,16.7 L87.5,20.7 L99.8,20.7 L97.4,16.7 L95.0,12.6 L92.7,8.6Z M94.7,32.8 L97.1,36.8 L99.5,40.8 L102.0,44.9 L114.4,44.9 L111.9,40.8 L109.5,36.8 L107.1,32.8Z M109.3,56.9 L111.8,61.0 L114.3,65.0 L116.8,69.0 L129.2,69.0 L126.7,65.0 L124.3,61.0 L121.8,56.9Z M124.3,81.1 L126.8,85.1 L129.4,89.1 L131.9,93.2 L144.5,93.2 L141.9,89.1 L139.4,85.1 L136.8,81.1Z M139.6,105.2 L142.2,109.3 L144.8,113.3 L147.5,117.3 L160.1,117.3 L157.5,113.3 L154.9,109.3 L152.2,105.2Z M155.4,129.4 L158.0,133.4 L160.7,137.5 L163.4,141.5 L176.2,141.5 L173.5,137.5 L170.8,133.4 L168.1,129.4Z M171.6,153.6 L174.4,157.6 L177.1,161.6 L179.9,165.7 L192.8,165.7 L190.0,161.6 L187.2,157.6 L184.4,153.6Z M188.3,177.7 L191.2,181.8 L194.1,185.8 L197.0,189.8 L210.0,189.8 L207.1,185.8 L204.2,181.8 L201.3,177.7Z M205.7,201.9 L208.6,205.9 L211.6,209.9 L214.6,214.0 L227.9,214.0 L224.8,209.9 L221.8,205.9 L218.8,201.9Z M223.7,226.0 L226.8,230.1 L229.9,234.1 L233.0,238.1 L246.4,238.1 L243.3,234.1 L240.2,230.1 L237.0,226.0Z M242.5,250.2 L245.7,254.2 L248.9,258.3 L252.2,262.3 L265.9,262.3 L262.6,258.3 L259.3,254.2 L256.0,250.2Z M262.1,274.4 L265.5,278.4 L268.9,282.4 L272.3,286.5 L286.3,286.5 L282.8,282.4 L279.4,278.4 L276.0,274.4Z M282.8,298.5 L286.3,302.6 L289.9,306.6 L293.5,310.6 L307.9,310.6 L304.2,306.6 L300.5,302.6 L296.9,298.5Z M304.4,322.5 L308.2,326.5 L311.9,330.5 L315.7,334.5 L330.5,334.5 L326.6,330.5 L322.8,326.5 L319.0,322.5Z M334.8,338.9 L338.8,342.9 L342.8,346.8 L346.8,350.7 L346.8,365.5 L342.8,361.7 L338.8,357.8 L334.8,353.9Z M358.7,362.2 L362.7,365.9 L366.6,369.6 L370.6,373.2 L370.6,387.4 L366.6,383.9 L362.7,380.3 L358.7,376.6Z M382.5,383.8 L386.5,387.2 L390.5,390.6 L394.5,394.0 L394.5,407.8 L390.5,404.5 L386.5,401.2 L382.5,397.8Z M406.5,403.9 L410.5,407.1 L414.5,410.3 L418.6,413.4 L418.6,426.8 L414.5,423.7 L410.5,420.6 L406.5,417.4Z M430.6,422.6 L434.7,425.5 L438.7,428.5 L442.7,431.3 L442.7,444.3 L438.7,441.5 L434.7,438.6 L430.6,435.7Z M454.8,439.7 L458.8,442.4 L462.8,445.0 L466.9,447.6 L466.9,460.2 L462.8,457.6 L458.8,455.0 L454.8,452.4Z M478.9,455.2 L483.0,457.6 L487.0,460.0 L491.0,462.3 L491.0,474.5 L487.0,472.2 L483.0,469.9 L478.9,467.5Z M503.1,469.1 L507.1,471.2 L511.2,473.4 L515.2,475.4 L515.2,487.3 L511.2,485.3 L507.1,483.2 L503.1,481.1Z M527.3,481.4 L531.3,483.3 L535.3,485.1 L539.4,486.9 L539.4,498.5 L535.3,496.7 L531.3,494.9 L527.3,493.1Z M551.4,492.0 L555.5,493.6 L559.5,495.2 L563.5,496.7 L563.5,508.0 L559.5,506.5 L555.5,505.0 L551.4,503.4Z M575.6,500.9 L579.6,502.2 L583.6,503.5 L587.7,504.7 L587.7,515.8 L583.6,514.6 L579.6,513.4 L575.6,512.1Z M599.7,508.0 L603.8,509.0 L607.8,510.0 L611.8,510.9 L611.8,521.7 L607.8,520.8 L603.8,519.9 L599.7,519.0Z M623.9,513.2 L627.9,513.9 L632.0,514.5 L636.0,515.0 L636.0,525.7 L632.0,525.2 L627.9,524.6 L623.9,523.9Z M648.1,516.3 L652.1,516.6 L656.1,516.8 L660.2,517.0 L660.2,527.6 L656.1,527.4 L652.1,527.2 L648.1,526.9Z M672.2,517.0 L676.4,516.9 L680.5,516.7 L680.5,527.4 L676.4,527.5 L672.2,527.6Z M80.4,8.6 L82.7,12.6 L84.9,16.7 L87.2,20.7 L99.3,20.7 L97.1,16.7 L94.8,12.6 L92.6,8.6Z M93.9,32.8 L96.2,36.8 L98.5,40.8 L100.8,44.9 L113.0,44.9 L110.7,40.8 L108.4,36.8 L106.1,32.8Z M107.7,56.9 L110.0,61.0 L112.3,65.0 L114.7,69.0 L126.9,69.0 L124.6,65.0 L122.2,61.0 L119.9,56.9Z M121.7,81.1 L124.1,85.1 L126.5,89.1 L128.9,93.2 L141.2,93.2 L138.8,89.1 L136.4,85.1 L134.0,81.1Z M136.1,105.2 L138.5,109.3 L140.9,113.3 L143.4,117.3 L155.8,117.3 L153.3,113.3 L150.9,109.3 L148.4,105.2Z M150.8,129.4 L153.3,133.4 L155.8,137.5 L158.3,141.5 L170.8,141.5 L168.3,137.5 L165.7,133.4 L163.2,129.4Z M165.9,153.6 L168.4,157.6 L171.0,161.6 L173.6,165.7 L186.2,165.7 L183.6,161.6 L181.0,157.6 L178.4,153.6Z M181.4,177.7 L184.1,181.8 L186.7,185.8 L189.4,189.8 L202.1,189.8 L199.5,185.8 L196.8,181.8 L194.1,177.7Z M197.5,201.9 L200.2,205.9 L203.0,209.9 L205.7,214.0 L218.6,214.0 L215.8,209.9 L213.1,205.9 L210.3,201.9Z M214.1,226.0 L216.9,230.1 L219.8,234.1 L222.7,238.1 L235.7,238.1 L232.8,234.1 L229.9,230.1 L227.1,226.0Z M231.4,250.2 L234.3,254.2 L237.3,258.3 L240.3,262.3 L253.5,262.3 L250.5,258.3 L247.5,254.2 L244.5,250.2Z M249.3,274.4 L252.4,278.4 L255.5,282.4 L258.6,286.5 L272.1,286.5 L268.9,282.4 L265.8,278.4 L262.7,274.4Z M268.1,298.5 L271.4,302.6 L274.6,306.6 L277.9,310.6 L291.6,310.6 L288.3,306.6 L285.0,302.6 L281.7,298.5Z M287.9,322.7 L291.3,326.7 L294.7,330.7 L298.1,334.7 L312.1,334.7 L308.7,330.7 L305.2,326.7 L301.8,322.7Z M308.5,346.6 L312.1,350.6 L315.7,354.6 L319.3,358.6 L333.7,358.6 L330.1,354.6 L326.4,350.6 L322.8,346.6Z M330.4,370.5 L334.2,374.5 L338.0,378.5 L341.9,382.5 L356.8,382.5 L352.9,378.5 L348.9,374.5 L345.1,370.5Z M361.3,386.9 L365.2,390.7 L369.2,394.6 L373.2,398.4 L373.2,412.9 L369.2,409.2 L365.2,405.4 L361.3,401.6Z M385.1,409.4 L389.1,413.0 L393.1,416.6 L397.1,420.0 L397.1,434.1 L393.1,430.6 L389.1,427.2 L385.1,423.6Z M409.1,430.3 L413.1,433.7 L417.1,437.0 L421.2,440.2 L421.2,453.7 L417.1,450.5 L413.1,447.3 L409.1,444.0Z M433.2,449.6 L437.3,452.7 L441.3,455.7 L445.3,458.6 L445.3,471.7 L441.3,468.8 L437.3,465.9 L433.2,462.9Z M457.4,467.2 L461.4,469.9 L465.5,472.6 L469.5,475.3 L469.5,487.9 L465.5,485.3 L461.4,482.7 L457.4,480.0Z M481.6,483.0 L485.6,485.4 L489.6,487.8 L493.7,490.2 L493.7,502.4 L489.6,500.1 L485.6,497.8 L481.6,495.3Z M505.7,497.0 L509.7,499.2 L513.8,501.3 L517.8,503.4 L517.8,515.3 L513.8,513.2 L509.7,511.2 L505.7,509.0Z M529.9,509.3 L533.9,511.2 L537.9,513.0 L542.0,514.8 L542.0,526.4 L537.9,524.6 L533.9,522.8 L529.9,521.0Z M554.0,519.9 L558.1,521.5 L562.1,523.0 L566.1,524.5 L566.1,535.8 L562.1,534.3 L558.1,532.8 L554.0,531.3Z M578.2,528.7 L582.2,529.9 L586.3,531.2 L590.3,532.3 L590.3,543.4 L586.3,542.2 L582.2,541.0 L578.2,539.8Z M602.4,535.6 L606.4,536.6 L610.4,537.5 L614.5,538.3 L614.5,549.2 L610.4,548.3 L606.4,547.4 L602.4,546.5Z M626.5,540.6 L630.5,541.3 L634.6,541.8 L638.6,542.4 L638.6,553.1 L634.6,552.5 L630.5,552.0 L626.5,551.3Z M650.7,543.6 L654.7,543.9 L658.7,544.2 L662.8,544.3 L662.8,555.0 L658.7,554.8 L654.7,554.6 L650.7,554.3Z M674.8,544.5 L680.5,544.4 L680.5,555.0 L674.8,555.1Z" fill="#2a2aff"/></g>
<line x1="86.50" y1="8.60" x2="100.00" y2="8.60" stroke="#000" stroke-width="2.4"/><line x1="86.50" y1="24.94" x2="94.80" y2="24.94" stroke="#555" stroke-width="1.1"/><line x1="86.50" y1="41.28" x2="94.80" y2="41.28" stroke="#555" stroke-width="1.1"/><line x1="86.50" y1="57.62" x2="94.80" y2="57.62" stroke="#555" stroke-width="1.1"/><line x1="86.50" y1="73.96" x2="94.80" y2="73.96" stroke="#555" stroke-width="1.1"/><line x1="86.50" y1="90.30" x2="100.00" y2="90.30" stroke="#000" stroke-width="2.4"/><line x1="86.50" y1="106.64" x2="94.80" y2="106.64" stroke="#555" stroke-width="1.1"/><line x1="86.50" y1="122.98" x2="94.80" y2="122.98" stroke="#555" stroke-width="1.1"/><line x1="86.50" y1="139.32" x2="94.80" y2="139.32" stroke="#555" stroke-width="1.1"/><line x1="86.50" y1="155.66" x2="94.80" y2="155.66" stroke="#555" stroke-width="1.1"/><line x1="86.50" y1="172.00" x2="100.00" y2="172.00" stroke="#000" stroke-width="2.4"/><line x1="86.50" y1="188.34" x2="94.80" y2="188.34" stroke="#555" stroke-width="1.1"/><line x1="86.50" y1="204.68" x2="94.80" y2="204.68" stroke="#555" stroke-width="1.1"/><line x1="86.50" y1="221.02" x2="94.80" y2="221.02" stroke="#555" stroke-width="1.1"/><line x1="86.50" y1="237.36" x2="94.80" y2="237.36" stroke="#555" stroke-width="1.1"/><line x1="86.50" y1="253.70" x2="100.00" y2="253.70" stroke="#000" stroke-width="2.4"/><line x1="86.50" y1="270.04" x2="94.80" y2="270.04" stroke="#555" stroke-width="1.1"/><line x1="86.50" y1="286.38" x2="94.80" y2="286.38" stroke="#555" stroke-width="1.1"/><line x1="86.50" y1="302.72" x2="94.80" y2="302.72" stroke="#555" stroke-width="1.1"/><line x1="86.50" y1="319.06" x2="94.80" y2="319.06" stroke="#555" stroke-width="1.1"/><line x1="86.50" y1="335.40" x2="100.00" y2="335.40" stroke="#000" stroke-width="2.4"/><line x1="86.50" y1="351.74" x2="94.80" y2="351.74" stroke="#555" stroke-width="1.1"/><line x1="86.50" y1="368.08" x2="94.80" y2="368.08" stroke="#555" stroke-width="1.1"/><line x1="86.50" y1="384.42" x2="94.80" y2="384.42" stroke="#555" stroke-width="1.1"/><line x1="86.50" y1="400.76" x2="94.80" y2="400.76" stroke="#555" stroke-width="1.1"/><line x1="86.50" y1="417.10" x2="100.00" y2="417.10" stroke="#000" stroke-width="2.4"/><line x1="86.50" y1="433.44" x2="94.80" y2="433.44" stroke="#555" stroke-width="1.1"/><line x1="86.50" y1="449.78" x2="94.80" y2="449.78" stroke="#555" stroke-width="1.1"/><line x1="86.50" y1="466.12" x2="94.80" y2="466.12" stroke="#555" stroke-width="1.1"/><line x1="86.50" y1="482.46" x2="94.80" y2="482.46" stroke="#555" stroke-width="1.1"/><line x1="86.50" y1="498.80" x2="100.00" y2="498.80" stroke="#000" stroke-width="2.4"/><line x1="86.50" y1="515.14" x2="94.80" y2="515.14" stroke="#555" stroke-width="1.1"/><line x1="86.50" y1="531.48" x2="94.80" y2="531.48" stroke="#555" stroke-width="1.1"/><line x1="86.50" y1="547.82" x2="94.80" y2="547.82" stroke="#555" stroke-width="1.1"/><line x1="86.50" y1="549.20" x2="86.50" y2="536.70" stroke="#000" stroke-width="2.4"/><line x1="116.20" y1="549.20" x2="116.20" y2="542.20" stroke="#555" stroke-width="1.1"/><line x1="145.90" y1="549.20" x2="145.90" y2="542.20" stroke="#555" stroke-width="1.1"/><line x1="175.60" y1="549.20" x2="175.60" y2="542.20" stroke="#555" stroke-width="1.1"/><line x1="205.30" y1="549.20" x2="205.30" y2="536.70" stroke="#000" stroke-width="2.4"/><line x1="235.00" y1="549.20" x2="235.00" y2="542.20" stroke="#555" stroke-width="1.1"/><line x1="264.70" y1="549.20" x2="264.70" y2="542.20" stroke="#555" stroke-width="1.1"/><line x1="294.40" y1="549.20" x2="294.40" y2="542.20" stroke="#555" stroke-width="1.1"/><line x1="324.10" y1="549.20" x2="324.10" y2="536.70" stroke="#000" stroke-width="2.4"/><line x1="353.80" y1="549.20" x2="353.80" y2="542.20" stroke="#555" stroke-width="1.1"/><line x1="383.50" y1="549.20" x2="383.50" y2="542.20" stroke="#555" stroke-width="1.1"/><line x1="413.20" y1="549.20" x2="413.20" y2="542.20" stroke="#555" stroke-width="1.1"/><line x1="442.90" y1="549.20" x2="442.90" y2="536.70" stroke="#000" stroke-width="2.4"/><line x1="472.60" y1="549.20" x2="472.60" y2="542.20" stroke="#555" stroke-width="1.1"/><line x1="502.30" y1="549.20" x2="502.30" y2="542.20" stroke="#555" stroke-width="1.1"/><line x1="532.00" y1="549.20" x2="532.00" y2="542.20" stroke="#555" stroke-width="1.1"/><line x1="561.70" y1="549.20" x2="561.70" y2="536.70" stroke="#000" stroke-width="2.4"/><line x1="591.40" y1="549.20" x2="591.40" y2="542.20" stroke="#555" stroke-width="1.1"/><line x1="621.10" y1="549.20" x2="621.10" y2="542.20" stroke="#555" stroke-width="1.1"/><line x1="650.80" y1="549.20" x2="650.80" y2="542.20" stroke="#555" stroke-width="1.1"/><line x1="680.50" y1="549.20" x2="680.50" y2="536.70" stroke="#000" stroke-width="2.4"/>
<rect x="86.50" y="8.60" width="594.00" height="540.60" fill="none" stroke="#000" stroke-width="2.5"/>
<g font-family="Liberation Serif, serif" font-size="20.6" fill="#000"><text transform="translate(78,16.80) scale(1,1.1)" text-anchor="end">1</text><text transform="translate(78,98.50) scale(1,1.1)" text-anchor="end">0.95</text><text transform="translate(78,180.20) scale(1,1.1)" text-anchor="end">0.9</text><text transform="translate(78,261.90) scale(1,1.1)" text-anchor="end">0.85</text><text transform="translate(78,343.60) scale(1,1.1)" text-anchor="end">0.8</text><text transform="translate(78,425.30) scale(1,1.1)" text-anchor="end">0.75</text><text transform="translate(78,507.00) scale(1,1.1)" text-anchor="end">0.7</text><text transform="translate(86.50,571.9) scale(1,1.1)" text-anchor="middle">0</text><text transform="translate(205.30,571.9) scale(1,1.1)" text-anchor="middle">0.2</text><text transform="translate(324.10,571.9) scale(1,1.1)" text-anchor="middle">0.4</text><text transform="translate(442.90,571.9) scale(1,1.1)" text-anchor="middle">0.6</text><text transform="translate(561.70,571.9) scale(1,1.1)" text-anchor="middle">0.8</text><text transform="translate(680.50,571.9) scale(1,1.1)" text-anchor="middle">1</text></g>
<defs><g id="xi" fill="none" stroke="#000" stroke-linecap="round">
<path d="M4.4,0.5 C2.8,0.5 1.8,1.6 2.4,3.3 C2.8,4.4 4.0,4.8 5.0,4.8" stroke-width="1.2"/>
<path d="M5.13,5.07 L11.12,3.18 A1.2,1.2 0 0 0 10.08,1.02 L4.87,4.53 Z" fill="#000" stroke-width="0.3"/>
<path d="M5.0,4.8 C3.4,5.6 2.8,7.5 3.6,9.0 C4.2,10.5 5.2,11.0 6.0,11.0" stroke-width="1.2"/>
<path d="M6.04,11.35 L11.94,11.49 A1.2,1.2 0 0 0 11.66,9.11 L5.96,10.65 Z" fill="#000" stroke-width="0.3"/>
<path d="M6.0,11.0 C3.5,12.2 1.5,14.5 1.4,17.5" stroke-width="1.7"/>
<path d="M1.4,17.2 C1.4,20.5 3.8,22.4 8.0,23.0 C11.5,23.5 13.4,25.3 13.4,27.8 C13.4,30 12.0,31.0 9.4,31.4" stroke-width="2.7"/>
<path d="M1.5,15.6 C1.2,17 1.2,18.5 1.6,19.5" stroke-width="2.3"/>
</g></defs>
<use href="#xi" transform="translate(376,577)"/>
<g font-family="Liberation Serif, serif" font-size="36">
<text transform="translate(27.6,308.5) rotate(-90)">g(</text>
<use href="#xi" transform="translate(2.3,277.6) rotate(-90) scale(0.86,1)"/>
<text transform="translate(27.6,262.5) rotate(-90)">)</text>
</g>
<!-- circle and arrows -->
<ellipse cx="196" cy="140.4" rx="74" ry="72.8" fill="none" stroke="#000" stroke-width="2.7"/>
<line x1="269" y1="146.1" x2="378" y2="153" stroke="#000" stroke-width="3"/>
<path d="M378.4,144.2 L417.8,155.9 L376.3,161.8 Z" fill="#000" stroke="#000" stroke-width="1.4" stroke-linejoin="round"/>
<line x1="395.4" y1="247.3" x2="250" y2="371" stroke="#000" stroke-width="3"/>
<path d="M246.6,363.0 L220.6,395.6 L258.4,375.4 Z" fill="#000" stroke="#000" stroke-width="1.5" stroke-linejoin="round"/>
<!-- inset -->
<rect x="426.30" y="44.90" width="217.30" height="217.40" fill="#fff"/>
<g clip-path="url(#ic)"><path d="M516.6,30.2 L518.4,32.1 L520.2,34.1 L522.0,36.0 L523.8,37.9 L525.6,39.9 L527.4,41.8 L529.2,43.7 L531.0,45.7 L532.8,47.6 L534.6,49.5 L536.4,51.4 L538.2,53.4 L540.0,55.3 L541.8,57.2 L543.6,59.1 L545.4,61.0 L547.2,63.0 L549.0,64.9 L550.8,66.8 L552.6,68.7 L554.4,70.6 L556.2,72.5 L558.0,74.4 L559.8,76.3 L561.6,78.2 L563.3,80.2 L565.1,82.1 L566.9,84.0 L568.7,85.9 L570.5,87.8 L572.3,89.7 L574.1,91.6 L575.9,93.4 L577.7,95.3 L579.5,97.2 L581.3,99.1 L583.1,101.0 L584.9,102.9 L586.7,104.8 L588.5,106.7 L590.3,108.6 L592.1,110.4 L593.9,112.3 L595.7,114.2 L597.5,116.1 L599.3,118.0 L601.1,119.8 L602.9,121.7 L604.7,123.6 L606.5,125.5 L608.3,127.3 L610.1,129.2 L611.9,131.1 L613.7,132.9 L615.5,134.8 L617.3,136.7 L619.1,138.5 L620.9,140.4 L622.7,142.3 L624.5,144.1 L626.3,146.0 L628.1,147.8 L629.9,149.7 L631.7,151.5 L633.5,153.4 L635.3,155.2 L637.1,157.1 L638.9,158.9 L640.7,160.8 L642.5,162.6 L644.3,164.5 L646.1,166.3 L647.9,168.1 L649.7,170.0 L651.5,171.8 L653.3,173.7 L655.1,175.5 L656.9,177.3" fill="none" stroke="#d00000" stroke-width="4.6"/><path d="M447.4,30.8 L449.2,33.4 L451.0,36.0 L452.8,38.6 L454.6,41.1 L456.4,43.7 L458.2,46.3 L460.0,48.9 L461.7,51.4 L463.5,54.0 L465.3,56.6 L467.1,59.1 L468.9,61.7 L470.7,64.2 L472.5,66.8 L474.3,69.3 L476.1,71.9 L477.9,74.4 L479.7,77.0 L481.5,79.5 L483.3,82.1 L485.1,84.6 L486.9,87.1 L488.7,89.7 L490.5,92.2 L492.3,94.7 L494.1,97.3 L495.9,99.8 L497.7,102.3 L499.5,104.8 L501.3,107.3 L503.1,109.9 L504.9,112.4 L506.7,114.9 L508.5,117.4 L510.3,119.9 L512.1,122.4 L513.9,124.9 L515.7,127.4 L517.5,129.9 L519.3,132.4 L521.1,134.9 L522.9,137.3 L524.7,139.8 L526.5,142.3 L528.3,144.8 L530.1,147.3 L531.9,149.7 L533.7,152.2 L535.5,154.7 L537.3,157.2 L539.1,159.6 L540.9,162.1 L542.7,164.5 L544.5,167.0 L546.3,169.5 L548.1,171.9 L549.9,174.4 L551.7,176.8 L553.5,179.3 L555.3,181.7 L557.1,184.1 L558.9,186.6 L560.7,189.0 L562.5,191.5 L564.2,193.9 L566.0,196.3 L567.8,198.7 L569.6,201.2 L571.4,203.6 L573.2,206.0 L575.0,208.4 L576.8,210.8 L578.6,213.3 L580.4,215.7 L582.2,218.1 L584.0,220.5 L585.8,222.9 L587.6,225.3 L589.4,227.7 L591.2,230.1 L593.0,232.5 L594.8,234.9 L596.6,237.3 L598.4,239.6 L600.2,242.0 L602.0,244.4 L603.8,246.8 L605.6,249.2 L607.4,251.5 L609.2,253.9 L611.0,256.3 L612.8,258.7 L614.6,261.0 L616.4,263.4 L618.2,265.7 L620.0,268.1 L621.8,270.5 L623.6,272.8 L625.4,275.2" fill="none" stroke="#d00000" stroke-width="4.6"/><path d="M415.9,30.1 L417.7,33.2 L419.5,36.3 L421.3,39.4 L423.1,42.5 L424.9,45.5 L426.7,48.6 L428.5,51.7 L430.3,54.7 L432.1,57.8 L433.9,60.9 L435.7,63.9 L437.5,67.0 L439.3,70.0 L441.1,73.0 L442.9,76.1 L444.7,79.1 L446.5,82.2 L448.3,85.2 L450.1,88.2 L451.9,91.2 L453.7,94.3 L455.5,97.3 L457.3,100.3 L459.1,103.3 L460.8,106.3 L462.6,109.3 L464.4,112.3 L466.2,115.3 L468.0,118.3 L469.8,121.3 L471.6,124.3 L473.4,127.3 L475.2,130.2 L477.0,133.2 L478.8,136.2 L480.6,139.2 L482.4,142.1 L484.2,145.1 L486.0,148.1 L487.8,151.0 L489.6,154.0 L491.4,156.9 L493.2,159.9 L495.0,162.8 L496.8,165.8 L498.6,168.7 L500.4,171.6 L502.2,174.6 L504.0,177.5 L505.8,180.4 L507.6,183.3 L509.4,186.3 L511.2,189.2 L513.0,192.1 L514.8,195.0 L516.6,197.9 L518.4,200.8 L520.2,203.7 L522.0,206.6 L523.8,209.5 L525.6,212.4 L527.4,215.2 L529.2,218.1 L531.0,221.0 L532.8,223.9 L534.6,226.8 L536.4,229.6 L538.2,232.5 L540.0,235.3 L541.8,238.2 L543.6,241.1 L545.4,243.9 L547.2,246.8 L549.0,249.6 L550.8,252.4 L552.6,255.3 L554.4,258.1 L556.2,260.9 L558.0,263.8 L559.8,266.6 L561.6,269.4 L563.3,272.2 L565.1,275.0" fill="none" stroke="#d00000" stroke-width="4.6"/><path d="M411.4,41.4 L413.2,44.7 L415.0,47.9 L416.8,51.2 L418.6,54.5 L420.4,57.8 L422.2,61.0 L424.0,64.3 L425.8,67.6 L427.6,70.8 L429.4,74.1 L431.2,77.3 L433.0,80.6 L434.8,83.8 L436.6,87.1 L438.4,90.3 L440.2,93.6 L442.0,96.8 L443.8,100.0 L445.6,103.3 L447.4,106.5 L449.2,109.7 L451.0,112.9 L452.8,116.1 L454.6,119.3 L456.4,122.5 L458.2,125.7 L460.0,128.9 L461.7,132.1 L463.5,135.3 L465.3,138.5 L467.1,141.7 L468.9,144.9 L470.7,148.1 L472.5,151.2 L474.3,154.4 L476.1,157.6 L477.9,160.7 L479.7,163.9 L481.5,167.1 L483.3,170.2 L485.1,173.4 L486.9,176.5 L488.7,179.7 L490.5,182.8 L492.3,185.9 L494.1,189.1 L495.9,192.2 L497.7,195.3 L499.5,198.4 L501.3,201.6 L503.1,204.7 L504.9,207.8 L506.7,210.9 L508.5,214.0 L510.3,217.1 L512.1,220.2 L513.9,223.3 L515.7,226.4 L517.5,229.5 L519.3,232.6 L521.1,235.6 L522.9,238.7 L524.7,241.8 L526.5,244.9 L528.3,247.9 L530.1,251.0 L531.9,254.0 L533.7,257.1 L535.5,260.1 L537.3,263.2 L539.1,266.2 L540.9,269.3 L542.7,272.3 L544.5,275.3" fill="none" stroke="#d00000" stroke-width="4.6"/><path d="M524.0,44.0 L527.7,48.1 L531.5,52.1 L535.3,56.1 L546.2,56.1 L542.5,52.1 L538.7,48.1 L534.9,44.0Z M546.6,68.2 L550.4,72.2 L554.2,76.3 L558.0,80.3 L569.0,80.3 L565.2,76.3 L561.4,72.2 L557.6,68.2Z M569.4,92.4 L573.2,96.4 L577.0,100.4 L580.9,104.4 L591.9,104.4 L588.1,100.4 L584.2,96.4 L580.4,92.4Z M592.4,116.5 L596.2,120.5 L600.1,124.6 L604.0,128.6 L615.1,128.6 L611.2,124.6 L607.3,120.5 L603.5,116.5Z M615.6,140.7 L619.5,144.7 L623.4,148.7 L627.3,152.8 L638.5,152.8 L634.5,148.7 L630.6,144.7 L626.7,140.7Z M639.0,164.8 L643.0,168.9 L646.9,172.9 L650.9,176.9 L662.1,176.9 L658.1,172.9 L654.2,168.9 L650.2,164.8Z M451.7,44.0 L454.5,48.1 L457.3,52.1 L460.2,56.1 L469.9,56.1 L467.1,52.1 L464.3,48.1 L461.5,44.0Z M468.6,68.2 L471.5,72.2 L474.3,76.3 L477.2,80.3 L487.0,80.3 L484.1,76.3 L481.3,72.2 L478.4,68.2Z M485.7,92.4 L488.6,96.4 L491.4,100.4 L494.3,104.4 L504.2,104.4 L501.3,100.4 L498.4,96.4 L495.5,92.4Z M503.0,116.5 L505.9,120.5 L508.7,124.6 L511.6,128.6 L521.5,128.6 L518.6,124.6 L515.7,120.5 L512.8,116.5Z M520.4,140.7 L523.3,144.7 L526.2,148.7 L529.1,152.8 L539.0,152.8 L536.1,148.7 L533.2,144.7 L530.2,140.7Z M537.9,164.8 L540.9,168.9 L543.8,172.9 L546.8,176.9 L556.7,176.9 L553.7,172.9 L550.8,168.9 L547.8,164.8Z M555.7,189.0 L558.6,193.0 L561.6,197.1 L564.6,201.1 L574.6,201.1 L571.6,197.1 L568.6,193.0 L565.6,189.0Z M573.6,213.2 L576.6,217.2 L579.6,221.2 L582.6,225.2 L592.6,225.2 L589.6,221.2 L586.6,217.2 L583.6,213.2Z M591.7,237.3 L594.7,241.3 L597.7,245.4 L600.8,249.4 L610.8,249.4 L607.7,245.4 L604.7,241.3 L601.7,237.3Z M609.9,261.5 L613.0,265.5 L616.1,269.5 L619.1,273.6 L629.2,273.6 L626.1,269.5 L623.0,265.5 L620.0,261.5Z M408.1,24.7 L410.4,28.7 L412.8,32.7 L415.1,36.8 L424.4,36.8 L422.0,32.7 L419.7,28.7 L417.3,24.7Z M422.2,48.8 L424.5,52.9 L426.9,56.9 L429.3,60.9 L438.6,60.9 L436.2,56.9 L433.8,52.9 L431.5,48.8Z M436.4,73.0 L438.8,77.0 L441.2,81.1 L443.6,85.1 L452.9,85.1 L450.5,81.1 L448.1,77.0 L445.7,73.0Z M450.7,97.2 L453.1,101.2 L455.5,105.2 L457.9,109.2 L467.3,109.2 L464.9,105.2 L462.5,101.2 L460.0,97.2Z M465.2,121.3 L467.6,125.3 L470.0,129.4 L472.5,133.4 L481.8,133.4 L479.4,129.4 L477.0,125.3 L474.5,121.3Z M479.8,145.5 L482.2,149.5 L484.7,153.5 L487.1,157.6 L496.5,157.6 L494.0,153.5 L491.6,149.5 L489.1,145.5Z M494.5,169.6 L497.0,173.7 L499.4,177.7 L501.9,181.7 L511.3,181.7 L508.8,177.7 L506.4,173.7 L503.9,169.6Z M509.4,193.8 L511.9,197.8 L514.3,201.9 L516.8,205.9 L526.3,205.9 L523.8,201.9 L521.3,197.8 L518.8,193.8Z M524.4,218.0 L526.9,222.0 L529.4,226.0 L531.9,230.0 L541.4,230.0 L538.8,226.0 L536.3,222.0 L533.8,218.0Z M539.5,242.1 L542.1,246.1 L544.6,250.2 L547.1,254.2 L556.6,254.2 L554.1,250.2 L551.5,246.1 L549.0,242.1Z M554.8,266.3 L557.4,270.3 L560.0,274.3 L562.5,278.4 L572.0,278.4 L569.4,274.3 L566.9,270.3 L564.3,266.3Z M409.4,46.0 L411.6,50.1 L413.8,54.1 L416.0,58.1 L425.1,58.1 L422.9,54.1 L420.7,50.1 L418.5,46.0Z M422.7,70.2 L424.9,74.2 L427.1,78.3 L429.3,82.3 L438.5,82.3 L436.3,78.3 L434.0,74.2 L431.8,70.2Z M436.0,94.4 L438.3,98.4 L440.5,102.4 L442.8,106.4 L451.9,106.4 L449.7,102.4 L447.4,98.4 L445.2,94.4Z M449.5,118.5 L451.8,122.5 L454.0,126.6 L456.3,130.6 L465.5,130.6 L463.2,126.6 L460.9,122.5 L458.7,118.5Z M463.1,142.7 L465.4,146.7 L467.7,150.7 L469.9,154.8 L479.1,154.8 L476.8,150.7 L474.6,146.7 L472.3,142.7Z M476.8,166.8 L479.1,170.9 L481.4,174.9 L483.7,178.9 L492.9,178.9 L490.6,174.9 L488.3,170.9 L486.0,166.8Z M490.6,191.0 L492.9,195.0 L495.2,199.1 L497.6,203.1 L506.8,203.1 L504.5,199.1 L502.2,195.0 L499.8,191.0Z M504.5,215.2 L506.9,219.2 L509.2,223.2 L511.6,227.2 L520.8,227.2 L518.5,223.2 L516.1,219.2 L513.8,215.2Z M518.6,239.3 L521.0,243.3 L523.3,247.4 L525.7,251.4 L535.0,251.4 L532.6,247.4 L530.2,243.3 L527.9,239.3Z M532.8,263.5 L535.2,267.5 L537.6,271.5 L539.9,275.6 L549.2,275.6 L546.9,271.5 L544.5,267.5 L542.1,263.5Z" fill="#00d000"/><path d="M512.7,31.9 L515.6,35.0 L518.4,38.0 L529.3,38.0 L526.5,35.0 L523.7,31.9Z M524.0,44.0 L526.8,47.0 L529.6,50.1 L540.6,50.1 L537.7,47.0 L534.9,44.0Z M535.2,56.1 L538.1,59.1 L540.9,62.1 L551.9,62.1 L549.0,59.1 L546.2,56.1Z M546.6,68.2 L549.4,71.2 L552.3,74.2 L563.2,74.2 L560.4,71.2 L557.6,68.2Z M557.9,80.3 L560.8,83.3 L563.7,86.3 L574.7,86.3 L571.8,83.3 L569.0,80.3Z M569.4,92.3 L572.2,95.4 L575.1,98.4 L586.1,98.4 L583.3,95.4 L580.4,92.3Z M580.8,104.4 L583.7,107.4 L586.6,110.5 L597.7,110.5 L594.8,107.4 L591.9,104.4Z M592.4,116.5 L595.3,119.5 L598.2,122.5 L609.2,122.5 L606.3,119.5 L603.4,116.5Z M604.0,128.6 L606.9,131.6 L609.8,134.6 L620.9,134.6 L618.0,131.6 L615.1,128.6Z M615.6,140.7 L618.5,143.7 L621.4,146.7 L632.6,146.7 L629.6,143.7 L626.7,140.7Z M627.3,152.7 L630.2,155.8 L633.2,158.8 L644.3,158.8 L641.4,155.8 L638.4,152.7Z M639.0,164.8 L642.0,167.8 L644.9,170.9 L656.1,170.9 L653.2,167.8 L650.2,164.8Z M443.4,32.1 L445.5,35.2 L447.6,38.2 L457.4,38.2 L455.3,35.2 L453.2,32.1Z M451.8,44.2 L453.9,47.2 L456.0,50.3 L465.8,50.3 L463.7,47.2 L461.6,44.2Z M460.3,56.3 L462.4,59.3 L464.5,62.3 L474.3,62.3 L472.2,59.3 L470.0,56.3Z M468.8,68.4 L470.9,71.4 L473.0,74.4 L482.8,74.4 L480.7,71.4 L478.5,68.4Z M477.3,80.5 L479.4,83.5 L481.6,86.5 L491.4,86.5 L489.2,83.5 L487.1,80.5Z M485.8,92.5 L488.0,95.6 L490.1,98.6 L500.0,98.6 L497.8,95.6 L495.7,92.5Z M494.4,104.6 L496.6,107.6 L498.8,110.7 L508.6,110.7 L506.4,107.6 L504.3,104.6Z M503.1,116.7 L505.3,119.7 L507.4,122.7 L517.3,122.7 L515.1,119.7 L512.9,116.7Z M511.8,128.8 L513.9,131.8 L516.1,134.8 L526.0,134.8 L523.8,131.8 L521.6,128.8Z M520.5,140.9 L522.7,143.9 L524.9,146.9 L534.8,146.9 L532.6,143.9 L530.4,140.9Z M529.3,152.9 L531.5,156.0 L533.7,159.0 L543.6,159.0 L541.4,156.0 L539.2,152.9Z M538.1,165.0 L540.3,168.0 L542.5,171.1 L552.4,171.1 L550.2,168.0 L548.0,165.0Z M546.9,177.1 L549.1,180.1 L551.3,183.1 L561.3,183.1 L559.1,180.1 L556.8,177.1Z M555.8,189.2 L558.0,192.2 L560.3,195.2 L570.2,195.2 L568.0,192.2 L565.7,189.2Z M564.7,201.3 L567.0,204.3 L569.2,207.3 L579.2,207.3 L576.9,204.3 L574.7,201.3Z M573.7,213.3 L576.0,216.4 L578.2,219.4 L588.2,219.4 L585.9,216.4 L583.7,213.3Z M582.7,225.4 L585.0,228.4 L587.3,231.5 L597.3,231.5 L595.0,228.4 L592.7,225.4Z M591.8,237.5 L594.1,240.5 L596.3,243.5 L606.4,243.5 L604.1,240.5 L601.8,237.5Z M600.9,249.6 L603.2,252.6 L605.5,255.6 L615.5,255.6 L613.2,252.6 L610.9,249.6Z M610.1,261.7 L612.4,264.7 L614.7,267.7 L624.7,267.7 L622.4,264.7 L620.1,261.7Z M415.2,36.8 L416.9,39.9 L418.7,42.9 L428.0,42.9 L426.2,39.9 L424.4,36.8Z M422.2,48.9 L424.0,51.9 L425.8,55.0 L435.0,55.0 L433.3,51.9 L431.5,48.9Z M429.3,61.0 L431.1,64.0 L432.9,67.0 L442.2,67.0 L440.4,64.0 L438.6,61.0Z M436.4,73.1 L438.2,76.1 L440.0,79.1 L449.3,79.1 L447.5,76.1 L445.7,73.1Z M443.6,85.2 L445.4,88.2 L447.2,91.2 L456.5,91.2 L454.7,88.2 L452.9,85.2Z M450.8,97.2 L452.6,100.3 L454.4,103.3 L463.7,103.3 L461.9,100.3 L460.1,97.2Z M458.0,109.3 L459.8,112.3 L461.6,115.4 L470.9,115.4 L469.1,112.3 L467.3,109.3Z M465.2,121.4 L467.1,124.4 L468.9,127.4 L478.2,127.4 L476.4,124.4 L474.6,121.4Z M472.5,133.5 L474.3,136.5 L476.2,139.5 L485.5,139.5 L483.7,136.5 L481.9,133.5Z M479.8,145.6 L481.7,148.6 L483.5,151.6 L492.9,151.6 L491.0,148.6 L489.2,145.6Z M487.2,157.6 L489.0,160.7 L490.9,163.7 L500.2,163.7 L498.4,160.7 L496.5,157.6Z M494.5,169.7 L496.4,172.7 L498.3,175.8 L507.6,175.8 L505.8,172.7 L503.9,169.7Z M502.0,181.8 L503.8,184.8 L505.7,187.8 L515.1,187.8 L513.2,184.8 L511.4,181.8Z M509.4,193.9 L511.3,196.9 L513.1,199.9 L522.6,199.9 L520.7,196.9 L518.8,193.9Z M516.9,206.0 L518.8,209.0 L520.6,212.0 L530.1,212.0 L528.2,209.0 L526.3,206.0Z M524.4,218.0 L526.3,221.1 L528.2,224.1 L537.6,224.1 L535.7,221.1 L533.8,218.0Z M532.0,230.1 L533.9,233.1 L535.8,236.2 L545.2,236.2 L543.3,233.1 L541.4,230.1Z M539.6,242.2 L541.5,245.2 L543.4,248.2 L552.8,248.2 L550.9,245.2 L549.0,242.2Z M547.2,254.3 L549.1,257.3 L551.0,260.3 L560.5,260.3 L558.6,257.3 L556.7,254.3Z M554.9,266.4 L556.8,269.4 L558.7,272.4 L568.2,272.4 L566.3,269.4 L564.4,266.4Z M409.3,45.9 L411.0,48.9 L412.6,51.9 L421.7,51.9 L420.1,48.9 L418.4,45.9Z M415.9,57.9 L417.6,61.0 L419.2,64.0 L428.4,64.0 L426.7,61.0 L425.0,57.9Z M422.6,70.0 L424.2,73.0 L425.9,76.1 L435.0,76.1 L433.4,73.0 L431.7,70.0Z M429.2,82.1 L430.9,85.1 L432.6,88.1 L441.7,88.1 L440.1,85.1 L438.4,82.1Z M435.9,94.2 L437.6,97.2 L439.3,100.2 L448.5,100.2 L446.8,97.2 L445.1,94.2Z M442.7,106.3 L444.3,109.3 L446.0,112.3 L455.2,112.3 L453.5,109.3 L451.8,106.3Z M449.4,118.3 L451.1,121.4 L452.8,124.4 L462.0,124.4 L460.3,121.4 L458.6,118.3Z M456.2,130.4 L457.9,133.4 L459.6,136.5 L468.8,136.5 L467.1,133.4 L465.4,130.4Z M463.0,142.5 L464.7,145.5 L466.4,148.5 L475.6,148.5 L473.9,145.5 L472.2,142.5Z M469.8,154.6 L471.5,157.6 L473.3,160.6 L482.5,160.6 L480.7,157.6 L479.0,154.6Z M476.7,166.7 L478.4,169.7 L480.1,172.7 L489.4,172.7 L487.6,169.7 L485.9,166.7Z M483.6,178.7 L485.3,181.8 L487.0,184.8 L496.3,184.8 L494.5,181.8 L492.8,178.7Z M490.5,190.8 L492.2,193.8 L494.0,196.9 L503.2,196.9 L501.5,193.8 L499.7,190.8Z M497.5,202.9 L499.2,205.9 L501.0,208.9 L510.2,208.9 L508.4,205.9 L506.7,202.9Z M504.4,215.0 L506.2,218.0 L507.9,221.0 L517.2,221.0 L515.4,218.0 L513.7,215.0Z M511.5,227.1 L513.2,230.1 L515.0,233.1 L524.2,233.1 L522.5,230.1 L520.7,227.1Z M518.5,239.1 L520.3,242.2 L522.0,245.2 L531.3,245.2 L529.5,242.2 L527.8,239.1Z M525.6,251.2 L527.4,254.2 L529.1,257.3 L538.4,257.3 L536.6,254.2 L534.9,251.2Z M532.7,263.3 L534.5,266.3 L536.3,269.3 L545.6,269.3 L543.8,266.3 L542.0,263.3Z" fill="#2a2aff"/></g>
<rect x="426.30" y="44.90" width="217.30" height="217.40" fill="none" stroke="#000" stroke-width="2"/>
<!-- legend -->
<text x="112" y="431.6" font-family="Liberation Serif, serif" font-size="22">Case1, Case2, Case3, Case4</text>
<rect x="127.9" y="457.4" width="95.4" height="5.4" fill="#d00000"/>
<rect x="127.9" y="480.1" width="18.4" height="10.7" fill="#00d000"/><rect x="164.1" y="480.1" width="18.4" height="10.7" fill="#00d000"/><rect x="200.3" y="480.1" width="18.4" height="10.7" fill="#00d000"/>
<rect x="127.9" y="505.2" width="12.2" height="10.5" fill="#2a2aff"/><rect x="152.0" y="505.2" width="12.2" height="10.5" fill="#2a2aff"/><rect x="176.1" y="505.2" width="12.2" height="10.5" fill="#2a2aff"/><rect x="200.2" y="505.2" width="12.2" height="10.5" fill="#2a2aff"/>
<g font-family="Liberation Serif, serif" font-size="21.3">
<text x="239" y="467" >Ref [37]</text>
<text x="239" y="492.2">Modified AGM</text>
<text x="239" y="517.4">HAN Method</text>
</g>
</svg></body></html>
